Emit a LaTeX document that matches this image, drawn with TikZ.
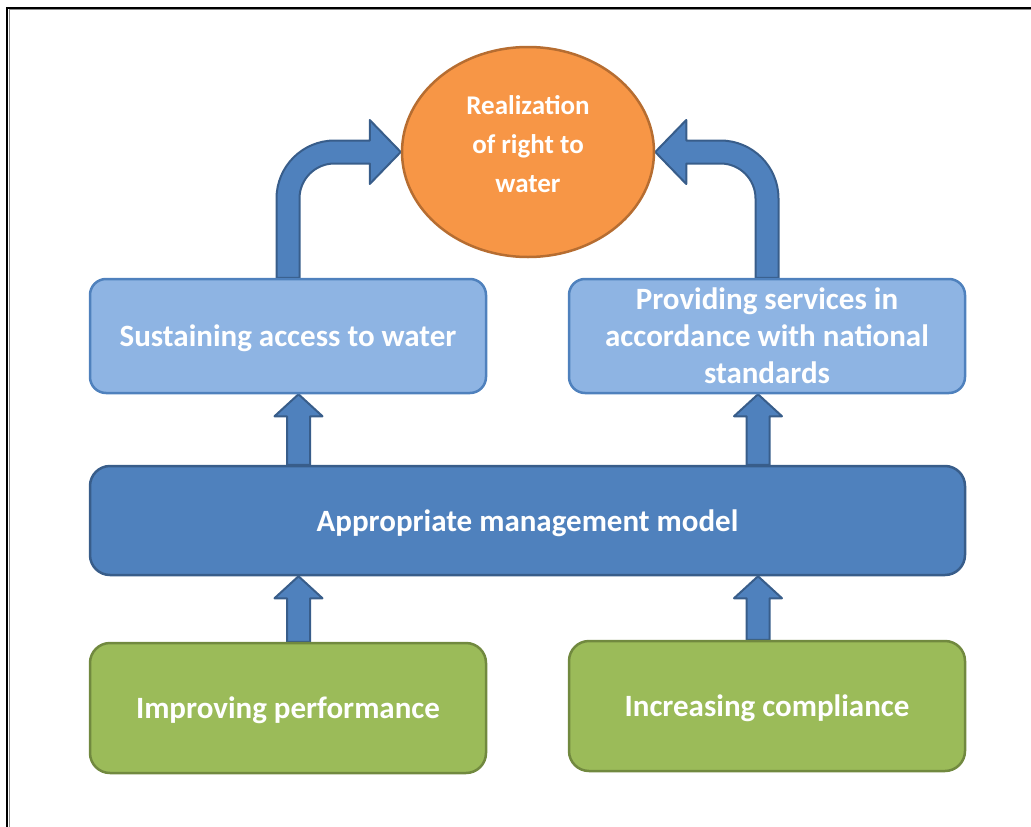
\documentclass[tikz,border=0pt]{standalone}
\usepackage{fontspec}
\setmainfont{Carlito}
\usetikzlibrary{calc,shapes.geometric}
\pgfdeclarelayer{background}
\pgfsetlayers{background,main}

\definecolor{paleblue}{HTML}{8EB4E3}
\definecolor{accentblue}{HTML}{4F81BD}
\definecolor{deepblue}{HTML}{385D8A}
\definecolor{leaf}{HTML}{9BBB59}
\definecolor{leafdark}{HTML}{71893F}
\definecolor{amber}{HTML}{F79646}
\definecolor{amberdark}{HTML}{B66D31}

\tikzset{
  card/.style={rectangle, rounded corners=16pt, line width=2.5pt, text=white,
    font=\bfseries\fontsize{31}{37}\selectfont, align=center,
    minimum width=396pt, inner sep=0pt},
  oneline/.style={text depth=0pt},
  lightcard/.style={card, fill=paleblue, draw=accentblue, minimum height=114pt},
  corecard/.style={card, fill=accentblue, draw=deepblue, minimum width=875pt,
    minimum height=109pt, rounded corners=20pt},
  greencard/.style={card, fill=leaf, draw=leafdark, minimum height=130pt,
    rounded corners=20pt},
  goalshape/.style={ellipse, fill=amber, draw=amberdark, line width=2.5pt,
    minimum width=252pt, minimum height=210pt, inner sep=0pt},
  goaltext/.style={text=white, font=\bfseries\fontsize{27}{39}\selectfont,
    align=center, inner sep=0pt},
  blockarrow/.style={fill=accentblue, draw=deepblue, line width=2pt, line join=round},
}

% straight block arrow rising from the top of #2 to the bottom of #3 at the x of #1
\newcommand\riserarrow[3]{%
  \path[blockarrow] let \p1=(#2.north -| #1), \p2=(#3.south -| #1) in
    (\x1-11.5pt,\y1) -- (\x1-11.5pt,\y2-22pt) -- (\x1-24pt,\y2-22pt) -- (\x2,\y2)
    -- (\x1+24pt,\y2-22pt) -- (\x1+11.5pt,\y2-22pt) -- (\x1+11.5pt,\y1) -- cycle;}

\begin{document}
\begin{tikzpicture}[x=1pt,y=-1pt]
  \useasboundingbox (0,0) rectangle (1031,827);

  % page frame (top and left edges)
  \draw[black!45, line width=1pt] (9.5,827) -- (9.5,9.5) -- (1031,9.5);
  \draw[black, line width=2pt] (7,827) -- (7,8) -- (1031,8);

  % goal
  \node[goalshape] (goal) at (528,152) {};
  \node[goaltext] (goaltxt) at (528,144) {Realization\\of right to\\water};

  % outcomes
  \node[lightcard, oneline] (sust) at (288,336) {Sustaining access to water};
  \node[lightcard] (prov) at (767,336)
    {Providing services in\\accordance with national\\standards};

  % core
  \node[corecard, oneline] (mgmt) at (527.5,520.5) {Appropriate management model};

  % drivers
  \node[greencard, oneline] (impr) at (288,708) {Improving performance};
  \node[greencard, oneline] (incr) at (767,706) {Increasing compliance};

  \coordinate (xa) at (298.5,0);
  \coordinate (xb) at (758,0);

  \begin{pgfonlayer}{background}
    \riserarrow{xa}{mgmt}{sust}
    \riserarrow{xb}{mgmt}{prov}
    \riserarrow{xa}{impr}{mgmt}
    \riserarrow{xb}{incr}{mgmt}

    % curved arrow from the left outcome to the goal
    \path[blockarrow] let \p1=(sust.north), \p2=(goal.west) in
      (\x1-11.5pt,\y1) -- (\x1-11.5pt,\y2-46.5pt)
      .. controls (\x1-11.5pt,\y2-14.47pt) and (\x1+14.47pt,\y2+11.5pt) .. (\x1+46.5pt,\y2+11.5pt)
      -- (\x2-31pt,\y2+11.5pt) -- (\x2-31pt,\y2+32pt) -- (\x2,\y2)
      -- (\x2-31pt,\y2-32pt) -- (\x2-31pt,\y2-11.5pt) -- (\x1+46.5pt,\y2-11.5pt)
      .. controls (\x1+27.17pt,\y2-11.5pt) and (\x1+11.5pt,\y2-27.17pt) .. (\x1+11.5pt,\y2-46.5pt)
      -- (\x1+11.5pt,\y1) -- cycle;

    % curved arrow from the right outcome to the goal
    \path[blockarrow] let \p1=(prov.north), \p2=(goal.east) in
      (\x1+11.5pt,\y1) -- (\x1+11.5pt,\y2-46.5pt)
      .. controls (\x1+11.5pt,\y2-14.47pt) and (\x1-14.47pt,\y2+11.5pt) .. (\x1-46.5pt,\y2+11.5pt)
      -- (\x2+31pt,\y2+11.5pt) -- (\x2+31pt,\y2+32pt) -- (\x2,\y2)
      -- (\x2+31pt,\y2-32pt) -- (\x2+31pt,\y2-11.5pt) -- (\x1-46.5pt,\y2-11.5pt)
      .. controls (\x1-27.17pt,\y2-11.5pt) and (\x1-11.5pt,\y2-27.17pt) .. (\x1-11.5pt,\y2-46.5pt)
      -- (\x1-11.5pt,\y1) -- cycle;
  \end{pgfonlayer}
\end{tikzpicture}
\end{document}
